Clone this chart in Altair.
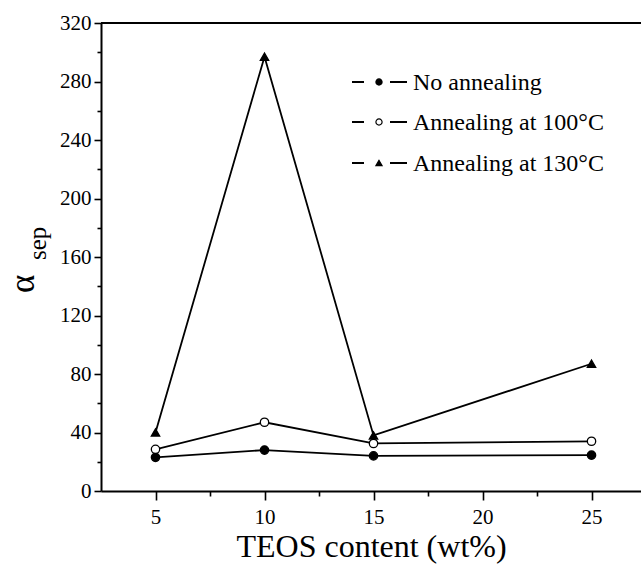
import altair as alt
import pandas as pd

# ---- data ----
teos = [5, 10, 15, 25]
no_anneal = [23, 28, 24, 24.5]
anneal_100 = [28.5, 47, 32.5, 34]
anneal_130 = [40, 297, 38, 87]
series_names = ["No annealing", "Annealing at 100°C", "Annealing at 130°C"]
series_values = [no_anneal, anneal_100, anneal_130]
series_shapes = ["circle", "circle", "triangle-up"]
series_fills = ["black", "white", "black"]
series_sizes = [70, 70, 110]
x_ticks = [5, 7.5, 10, 12.5, 15, 17.5, 20, 22.5, 25]
y_ticks = list(range(0, 321, 20))

rows = []
for name, vals in zip(series_names, series_values):
    for t, v in zip(teos, vals):
        rows.append({"teos": t, "val": v, "series": name})
df = pd.DataFrame(rows)

W, H = 540, 468
FONT = "Liberation Serif"

x_enc = alt.X(
    "teos:Q",
    scale=alt.Scale(domain=[2.5, 27.27], nice=False, zero=False),
    axis=alt.Axis(
        values=x_ticks,
        labelExpr="datum.value % 5 === 0 ? datum.label : ''",
        tickSize={"condition": {"test": "datum.value % 5 === 0", "value": 9}, "value": 5},
        title="TEOS content (wt%)",
        titlePadding=4,
        labelPadding=6,
        labelOverlap=False,
        labelFlush=False,
    ),
)
y_enc = alt.Y(
    "val:Q",
    scale=alt.Scale(domain=[0, 320], nice=False),
    axis=alt.Axis(
        values=y_ticks,
        labelExpr="datum.value % 40 === 0 ? datum.label : ''",
        tickSize={"condition": {"test": "datum.value % 40 === 0", "value": 7}, "value": 4},
        title=None,
        labelPadding=3,
        labelOverlap=False,
        labelFlush=False,
    ),
)

base = alt.Chart(df)
lines = base.mark_line(color="black", strokeWidth=1.8).encode(
    x=x_enc, y=y_enc, detail="series:N"
)
points = base.mark_point(filled=True, stroke="black", strokeWidth=1.3, opacity=1).encode(
    x=x_enc,
    y=y_enc,
    shape=alt.Shape("series:N", scale=alt.Scale(domain=series_names, range=series_shapes), legend=None),
    fill=alt.Fill("series:N", scale=alt.Scale(domain=series_names, range=series_fills), legend=None),
    size=alt.Size("series:N", scale=alt.Scale(domain=series_names, range=series_sizes), legend=None),
)

one = alt.Data(values=[{}])

top_rule = alt.Chart(one).mark_rule(color="black", strokeWidth=2).encode(
    x=alt.value(0), x2=alt.value(W), y=alt.value(0)
)

alpha = alt.Chart(one).mark_text(
    text="α", font=FONT, fontSize=35, angle=270, align="left", baseline="alphabetic", color="black"
).encode(x=alt.value(-67), y=alt.value(270))
sep = alt.Chart(one).mark_text(
    text="sep", font=FONT, fontSize=25, angle=270, align="left", baseline="alphabetic", color="black"
).encode(x=alt.value(-55), y=alt.value(237))

legend_layers = []
row_y = [59, 99, 140]
for name, shp, fl, yy in zip(series_names, series_shapes, series_fills, row_y):
    legend_layers.append(
        alt.Chart(one).mark_rule(color="black", strokeWidth=2).encode(
            x=alt.value(251), x2=alt.value(263), y=alt.value(yy)
        )
    )
    legend_layers.append(
        alt.Chart(one).mark_rule(color="black", strokeWidth=2).encode(
            x=alt.value(289), x2=alt.value(306), y=alt.value(yy)
        )
    )
    legend_layers.append(
        alt.Chart(one).mark_point(
            shape=shp, fill=fl, filled=True, stroke="black", strokeWidth=1.2, size=38, opacity=1
        ).encode(x=alt.value(278), y=alt.value(yy))
    )
    legend_layers.append(
        alt.Chart(one).mark_text(
            text=name, font=FONT, fontSize=24, align="left", baseline="middle", color="black"
        ).encode(x=alt.value(312), y=alt.value(yy + 1))
    )

chart = alt.layer(lines, points, top_rule, alpha, sep, *legend_layers).properties(
    width=W,
    height=H,
    background="white",
    autosize=alt.AutoSizeParams(type="none"),
    padding={"left": 101, "top": 23, "right": 0, "bottom": 73},
).configure_view(stroke=None).configure_axis(
    grid=False,
    domainColor="black",
    domainWidth=2,
    tickColor="black",
    tickWidth=1.6,
    labelFont=FONT,
    labelFontSize=21,
    labelColor="black",
    titleFont=FONT,
    titleFontSize=32,
    titleFontWeight="normal",
    titleColor="black",
)

chart.save("out.html", embed_options={"renderer": "svg", "actions": False})
